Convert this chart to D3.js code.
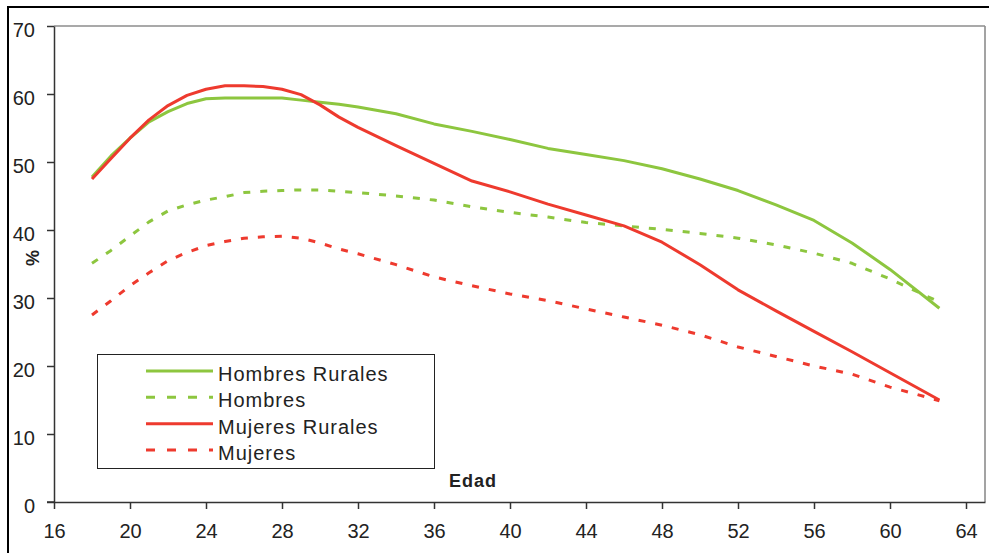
<!DOCTYPE html>
<html>
<head>
<meta charset="utf-8">
<script src="https://cdn.jsdelivr.net/npm/d3@7/dist/d3.min.js"></script>
<style>
  html, body { margin: 0; padding: 0; background: #fff; }
  svg { display: block; }
  text { font-family: "Liberation Sans", Arial, sans-serif; fill: #222; }
</style>
</head>
<body>
<svg id="chart" width="989" height="553"></svg>
<script>
// ---- data ----
const ages = [18, 19, 20, 21, 22, 23, 24, 25, 26, 27, 28, 29, 30, 31, 32, 34, 36, 38, 40, 42, 44, 46, 48, 50, 52, 54, 56, 58, 60, 62.6];
const hombresRurales = [47.8, 50.9, 53.5, 55.9, 57.4, 58.6, 59.3, 59.4, 59.4, 59.4, 59.4, 59.1, 58.8, 58.5, 58.1, 57.1, 55.6, 54.5, 53.3, 52.0, 51.1, 50.2, 49.0, 47.5, 45.8, 43.7, 41.4, 38.1, 34.2, 28.5];
const hombres = [35.1, 37.0, 39.1, 41.2, 42.8, 43.7, 44.4, 44.9, 45.5, 45.7, 45.8, 45.9, 45.9, 45.7, 45.5, 45.0, 44.4, 43.4, 42.6, 41.9, 41.1, 40.6, 40.1, 39.5, 38.8, 37.8, 36.6, 35.1, 32.8, 29.4];
const mujeresRurales = [47.5, 50.5, 53.5, 56.2, 58.3, 59.8, 60.7, 61.2, 61.2, 61.1, 60.7, 59.9, 58.4, 56.6, 55.1, 52.4, 49.8, 47.2, 45.6, 43.8, 42.2, 40.6, 38.2, 34.9, 31.2, 28.1, 25.1, 22.1, 19.0, 15.0];
const mujeres = [27.5, 29.6, 31.8, 33.7, 35.5, 36.7, 37.7, 38.3, 38.8, 39.0, 39.1, 38.8, 38.1, 37.2, 36.5, 34.9, 33.1, 31.8, 30.6, 29.6, 28.4, 27.2, 26.0, 24.6, 22.8, 21.4, 20.0, 18.8, 16.9, 14.9];
const xTicks = [16, 20, 24, 28, 32, 36, 40, 44, 48, 52, 56, 60, 64];
const yTicks = [0, 10, 20, 30, 40, 50, 60, 70];
const seriesNames = ["Hombres Rurales", "Hombres", "Mujeres Rurales", "Mujeres"];

const GREEN = "#8DC63F", RED = "#EE3A2E";
const series = [
  { name: seriesNames[0], values: hombresRurales, color: GREEN, dash: null },
  { name: seriesNames[1], values: hombres, color: GREEN, dash: "7,10" },
  { name: seriesNames[2], values: mujeresRurales, color: RED, dash: null },
  { name: seriesNames[3], values: mujeres, color: RED, dash: "7,10" }
];

const svg = d3.select("#chart");
const x = d3.scaleLinear().domain([16, 65]).range([54, 985]);
const y = d3.scaleLinear().domain([0, 70]).range([502, 26]);

// outer frame
svg.append("rect").attr("x", 8).attr("y", 7).attr("width", 1000).attr("height", 600)
  .attr("fill", "none").attr("stroke", "#000").attr("stroke-width", 2);

// plot frame (top and right, gray)
svg.append("line").attr("x1", x(16)).attr("x2", x(65)).attr("y1", y(70)).attr("y2", y(70))
  .attr("stroke", "#8c8c8c").attr("stroke-width", 1.6);
svg.append("line").attr("x1", x(65)).attr("x2", x(65)).attr("y1", y(70)).attr("y2", y(0))
  .attr("stroke", "#8c8c8c").attr("stroke-width", 1.6);

// axes
const yAxis = svg.append("g").attr("transform", `translate(${x(16)},0)`)
  .call(d3.axisLeft(y).tickValues(yTicks).tickSize(7).tickSizeOuter(0).tickPadding(12));
const xAxis = svg.append("g").attr("transform", `translate(0,${y(0)})`)
  .call(d3.axisBottom(x).tickValues(xTicks).tickSize(7).tickSizeOuter(0).tickPadding(15));
[yAxis, xAxis].forEach(g => {
  g.selectAll("path, line").attr("stroke", "#333").attr("stroke-width", 1.5);
  g.selectAll("text").style("font-size", "20px").attr("fill", "#222")
    .style("font-family", '"Liberation Sans", Arial, sans-serif');
});
yAxis.selectAll("text").attr("dy", "0.5em");
// extend x axis line to the left tick
svg.append("line").attr("x1", x(16) - 7).attr("x2", x(16)).attr("y1", y(0)).attr("y2", y(0))
  .attr("stroke", "#333").attr("stroke-width", 1.5);

// lines
const line = d3.line().x((d, i) => x(ages[i])).y(d => y(d));
series.forEach(s => {
  svg.append("path").datum(s.values)
    .attr("d", line)
    .attr("fill", "none")
    .attr("stroke", s.color)
    .attr("stroke-width", 3)
    .attr("stroke-dasharray", s.dash)
    .attr("stroke-linejoin", "round");
});

// axis titles
svg.append("text").attr("transform", "translate(39,258) rotate(-90)")
  .attr("text-anchor", "middle").style("font-size", "18px").style("font-weight", "bold").text("%");
svg.append("text").attr("x", 473).attr("y", 487)
  .attr("text-anchor", "middle").style("font-size", "18px").style("font-weight", "bold")
  .style("letter-spacing", "1px").text("Edad");

// legend
const lg = svg.append("g");
lg.append("rect").attr("x", 97.5).attr("y", 354.5).attr("width", 337).attr("height", 114)
  .attr("fill", "#fff").attr("stroke", "#222").attr("stroke-width", 1);
const ly = d3.scalePoint().domain(seriesNames).range([371, 450]);
series.forEach(s => {
  const yy = ly(s.name);
  lg.append("line").attr("x1", 146).attr("x2", 213).attr("y1", yy).attr("y2", yy)
    .attr("stroke", s.color).attr("stroke-width", 3).attr("stroke-dasharray", s.dash ? "9,12" : null);
  lg.append("text").attr("x", 218).attr("y", yy + 10)
    .style("font-size", "20px").style("letter-spacing", "1px").text(s.name);
});
</script>
</body>
</html>
